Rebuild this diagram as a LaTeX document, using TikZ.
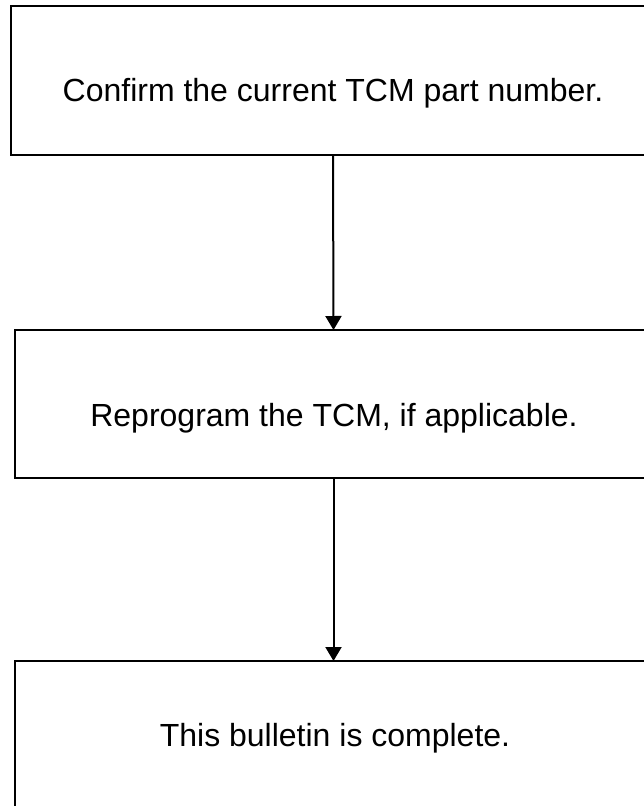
\documentclass[tikz,border=0pt]{standalone}
\usepackage{fontspec}
\setmainfont{Liberation Sans}
\usetikzlibrary{arrows.meta}
\begin{document}
\begin{tikzpicture}[x=1pt,y=-1pt,
  stepbox/.style={draw=black,line width=2pt,fill=none,inner sep=0pt,outer sep=0pt},
  label text/.style={font=\fontsize{32}{38}\selectfont,anchor=base,inner sep=0pt},
  flow/.style={draw=black,line width=2pt,-{Triangle[width=16pt,length=14pt]}}]
\useasboundingbox (0,0) rectangle (644,806);
\clip (0,0) rectangle (644,806);
\node[stepbox,minimum width=644pt,minimum height=149pt] (b1) at (333,80.5) {};
\node[stepbox,minimum width=638pt,minimum height=148pt] (b2) at (333.5,404) {};
\node[stepbox,minimum width=638pt,minimum height=160pt] (b3) at (333.5,741) {};
\node[label text] (t1) at (333,101) {Confirm the current TCM part number.};
\node[label text] (t2) at (334,426) {Reprogram the TCM, if applicable.};
\node[label text] (t3) at (335,746) {This bulletin is complete.};
\draw[flow] (b1.south) -- (b2.north);
\draw[flow] (b2.south) -- (b3.north);
\end{tikzpicture}
\end{document}
